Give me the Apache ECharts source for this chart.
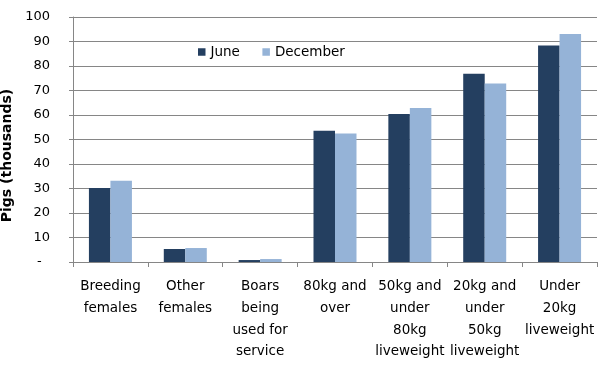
<!DOCTYPE html>
<html><head><meta charset="utf-8">
<script src="https://cdn.jsdelivr.net/npm/echarts@6/dist/echarts.min.js"></script>
<style>html,body{margin:0;padding:0;background:#fff}#c{width:599px;height:365px}</style>
</head><body><div id="c"></div>
<script>
var categories = ["Breeding\nfemales","Other\nfemales","Boars\nbeing\nused for\nservice","80kg and\nover","50kg and\nunder\n80kg\nliveweight","20kg and\nunder\n50kg\nliveweight","Under\n20kg\nliveweight"];
var june = [30.2, 5.3, 0.8, 53.6, 60.4, 76.8, 88.4];
var december = [33.2, 5.7, 1.2, 52.4, 62.9, 72.9, 93.1];
var seriesNames = ["June", "December"];
var FONT = "DejaVu Sans";
var chart = echarts.init(document.getElementById('c'), null, {renderer:'canvas'});
chart.setOption({
  animation:false,
  textStyle:{fontFamily:FONT},
  legend:{left:193, top:40, itemWidth:7.5, itemHeight:7.5, itemGap:22.5, icon:'rect',
    textStyle:{fontFamily:FONT, fontSize:13.5, color:'#000'},
    data:seriesNames},
  grid:{left:73, right:2, top:17, bottom:103, containLabel:false, outerBoundsMode:'none'},
  xAxis:{type:'category', data:categories,
    axisLine:{lineStyle:{color:'#868686'}},
    axisTick:{show:true, length:5, lineStyle:{color:'#868686'}},
    axisLabel:{interval:0, color:'#000', fontFamily:FONT, fontSize:13.5, lineHeight:21.7, margin:14}},
  yAxis:{type:'value', min:0, max:100, interval:10,
    name:'Pigs (thousands)', nameLocation:'middle', nameGap:51,
    nameTextStyle:{fontFamily:FONT, fontSize:14, fontWeight:'bold', color:'#000', padding:[0,32,0,0]},
    axisLine:{show:true, lineStyle:{color:'#868686'}},
    axisTick:{show:true, length:4, lineStyle:{color:'#868686'}},
    splitLine:{lineStyle:{color:'#868686'}},
    axisLabel:{color:'#000', fontFamily:FONT, fontSize:13, margin:23,
      formatter:function(v){return v===0?'-  ':String(v);}}},
  series:[
    {name:seriesNames[0], type:'bar', data:june, barWidth:21.5, barGap:'0%', itemStyle:{color:'#243f60'}},
    {name:seriesNames[1], type:'bar', data:december, barWidth:21.5, barGap:'0%', itemStyle:{color:'#95b3d7'}}
  ]
});
</script></body></html>
